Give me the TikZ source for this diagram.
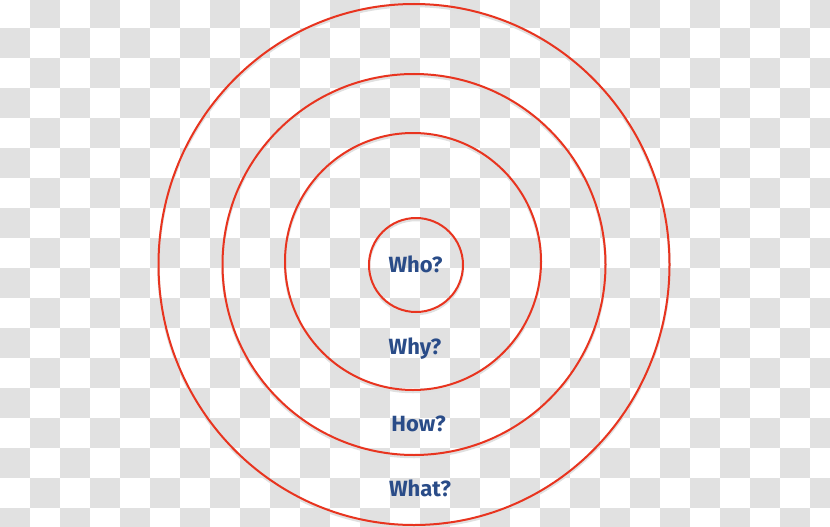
\documentclass[tikz,border=0pt]{standalone}
\usepackage{fontspec}
\setmainfont{Fira Sans}
\definecolor{ringred}{HTML}{E8341F}
\definecolor{checkgray}{HTML}{E1E1E1}
\definecolor{labelblue}{HTML}{2A4C88}
\tikzset{
  ring/.style={draw=ringred, line width=2pt},
  ringshadow/.style={draw=black!12, line width=2.5pt},
  lbl/.style={font=\fontsize{22}{24}\selectfont\bfseries, text=labelblue, anchor=base, inner sep=0pt}
}
\begin{document}
\begin{tikzpicture}[x=1pt,y=-1pt]
\useasboundingbox (0,0) rectangle (830,527);
\fill[white] (0,0) rectangle (830,527);
\begin{scope}
\clip (0,0) rectangle (830,527);
\foreach \c in {0,...,27}{
  \foreach \r in {0,...,17}{
    \pgfmathtruncatemacro{\chkpar}{mod(\c+\r,2)}
    \ifnum\chkpar=1
      \fill[checkgray] (30*\c,30*\r-2) rectangle (30*\c+30,30*\r+28);
    \fi
  }
}
\end{scope}
% shadows
\draw[ringshadow] (414,266.5) ellipse (255.5 and 260.5);
\draw[ringshadow] (414,266.5) ellipse (191.5 and 190.5);
\draw[ringshadow] (413,263.5) ellipse (128 and 128.5);
\draw[ringshadow] (416,267) ellipse (47 and 47);
% rings
\draw[ring] (414,264.5) ellipse (255.5 and 260.5);
\draw[ring] (414,264.5) ellipse (191.5 and 190.5);
\draw[ring] (413,261.5) ellipse (128 and 128.5);
\draw[ring] (416,265) ellipse (47 and 47);
% labels
\node[lbl] (who) at (415.5,272) {Who?};
\node[lbl] (why) at (415,354) {Why?};
\node[lbl] (how) at (418.5,431) {How?};
\node[lbl] (what) at (420,496) {What?};
\end{tikzpicture}
\end{document}
